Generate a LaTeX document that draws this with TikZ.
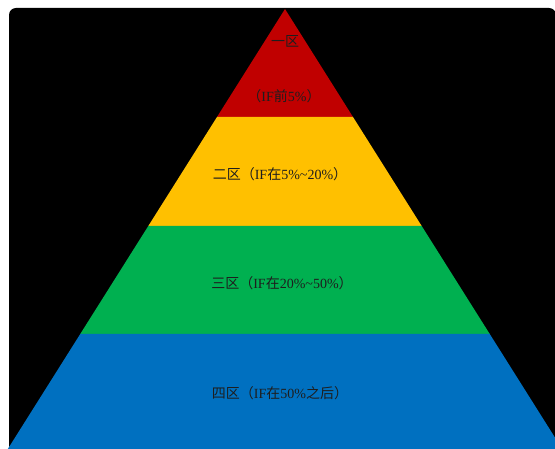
\documentclass[tikz,border=0pt]{standalone}
\usepackage{fontspec}
\setmainfont{Liberation Serif}
\newfontfamily\cjk{Noto Sans CJK SC}
\definecolor{zred}{HTML}{C00000}
\definecolor{zyellow}{HTML}{FFC000}
\definecolor{zgreen}{HTML}{00B050}
\definecolor{zblue}{HTML}{0070C0}
\definecolor{ztext}{HTML}{1E1E1E}
\tikzset{
  band/.style={draw=none},
  lab/.style={text=ztext, font=\fontsize{14}{16}\selectfont, inner sep=0pt, anchor=center}
}
\begin{document}
\begin{tikzpicture}[x=1pt,y=-1pt]
\useasboundingbox (0,0) rectangle (555,449);
\fill[white] (0,0) rectangle (555,449);
\clip (0,0) rectangle (555,449);
\fill[black, rounded corners=7pt] (9,8) rectangle (556,452);
\fill[band, zred] (285,9) -- (353,117) -- (217,117) -- cycle;
\fill[band, zyellow] (217,117) -- (353,117) -- (421.7,226) -- (148.3,226) -- cycle;
\fill[band, zgreen] (148.3,226) -- (421.7,226) -- (489.75,334) -- (80.25,334) -- cycle;
\fill[band, zblue] (80.25,334) -- (489.75,334) -- (562.2,449) -- (7.8,449) -- cycle;
\node[lab] (t1a) at (285,41) {\cjk 一区};
\node[lab] (t1b) at (284,96) {{\cjk （}IF{\cjk 前}5\%{\cjk ）}};
\node[lab] (t2) at (280,174) {{\cjk 二区（}IF{\cjk 在}5\%\textasciitilde 20\%{\cjk ）}};
\node[lab] (t3) at (282,283) {{\cjk 三区（}IF{\cjk 在}20\%\textasciitilde 50\%{\cjk ）}};
\node[lab] (t4) at (280,393) {{\cjk 四区（}IF{\cjk 在}50\%{\cjk 之后）}};
\end{tikzpicture}
\end{document}
